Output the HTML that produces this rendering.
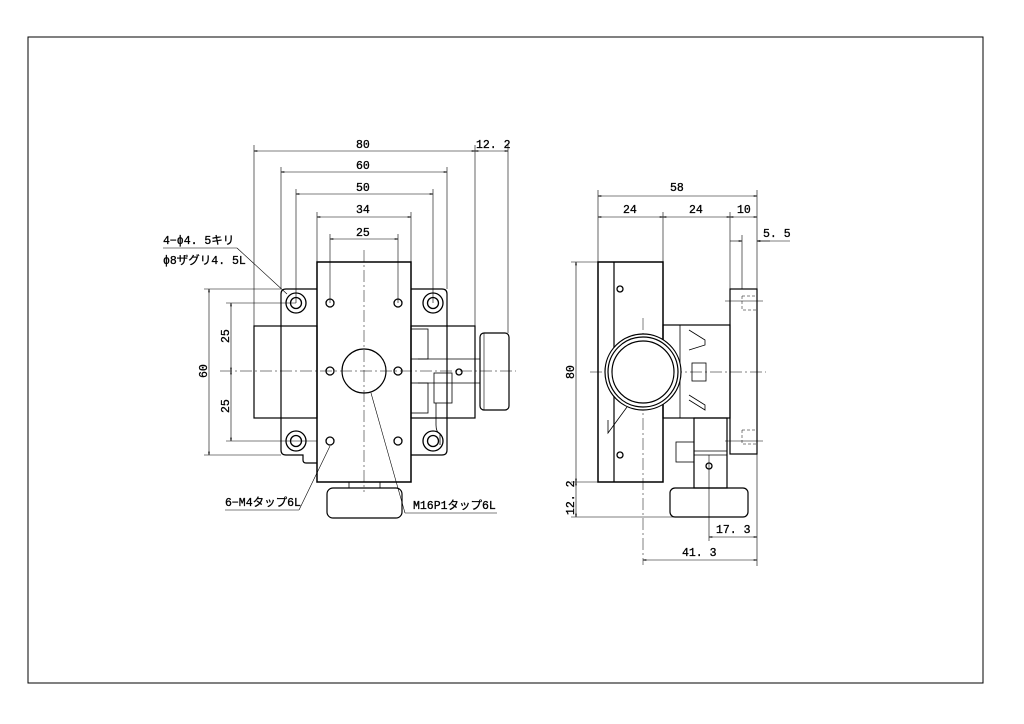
<!DOCTYPE html>
<html><head><meta charset="utf-8"><style>
html,body{margin:0;padding:0;background:#fff;}
svg{display:block;}
text{font-family:"Liberation Mono","Noto Sans CJK JP",monospace;font-size:11.5px;fill:#000;stroke:#000;stroke-width:0.3;}
</style></head><body>
<svg width="1024" height="724" viewBox="0 0 1024 724" xmlns="http://www.w3.org/2000/svg">
<defs>
<marker id="a" viewBox="0 0 10 6" refX="10" refY="3" markerWidth="8" markerHeight="4" orient="auto-start-reverse"><path d="M0,0 L10,3 L0,6" fill="none" stroke="#000" stroke-width="1"/></marker>
</defs>
<rect x="28" y="37" width="955" height="646" fill="none" stroke="#000" stroke-width="1"/>
<g fill="none" stroke="#000" stroke-width="0.6">
<line x1="254" y1="151" x2="475" y2="151" marker-start="url(#a)" marker-end="url(#a)"/>
<line x1="475" y1="151" x2="508" y2="151" marker-start="url(#a)" marker-end="url(#a)"/>
<line x1="281" y1="172" x2="447" y2="172" marker-start="url(#a)" marker-end="url(#a)"/>
<line x1="296" y1="194" x2="433" y2="194" marker-start="url(#a)" marker-end="url(#a)"/>
<line x1="317" y1="217" x2="411" y2="217" marker-start="url(#a)" marker-end="url(#a)"/>
<line x1="330" y1="239" x2="398" y2="239" marker-start="url(#a)" marker-end="url(#a)"/>
<line x1="254" y1="145" x2="254" y2="326"/><line x1="475" y1="145" x2="475" y2="326"/><line x1="508" y1="145" x2="508" y2="333"/>
<line x1="281" y1="167" x2="281" y2="289"/><line x1="447" y1="167" x2="447" y2="289"/>
<line x1="296" y1="189" x2="296" y2="303"/><line x1="433" y1="189" x2="433" y2="303"/>
<line x1="317" y1="212" x2="317" y2="262"/><line x1="411" y1="212" x2="411" y2="262"/>
<line x1="330" y1="234" x2="330" y2="303"/><line x1="398" y1="234" x2="398" y2="303"/>
<line x1="209" y1="289" x2="209" y2="455" marker-start="url(#a)" marker-end="url(#a)"/>
<line x1="231" y1="303" x2="231" y2="371" marker-start="url(#a)" marker-end="url(#a)"/>
<line x1="231" y1="371" x2="231" y2="441" marker-start="url(#a)" marker-end="url(#a)"/>
<line x1="204" y1="289" x2="281" y2="289"/><line x1="204" y1="455" x2="281" y2="455"/>
<line x1="226" y1="303" x2="296" y2="303"/><line x1="226" y1="441" x2="317" y2="441"/>
<line x1="163" y1="248" x2="237" y2="248"/><line x1="237" y1="248" x2="287" y2="294"/>
<line x1="225" y1="510" x2="299" y2="510"/><line x1="299" y1="510" x2="330" y2="446"/>
<line x1="405" y1="513" x2="497" y2="513"/><line x1="405" y1="513" x2="371" y2="393"/>
</g>
<g fill="none" stroke="#000" stroke-width="1.2">
<path d="M317,289 H286 Q281,289 281,294 V450 Q281,455 286,455 H303 V460 Q303,463 306,463 H317"/>
<path d="M411,289 H442 Q447,289 447,294 V450 Q447,455 442,455 H411"/>
<rect x="254" y="326" width="63" height="92"/>
<rect x="411" y="326" width="64" height="92"/>
<rect x="480" y="333" width="29" height="77" rx="4"/>
<line x1="484" y1="333" x2="484" y2="410" stroke-width="0.6"/>
<rect x="411" y="329" width="17" height="30" stroke-width="0.8"/>
<rect x="411" y="383" width="17" height="30" stroke-width="0.8"/>
<line x1="418" y1="359" x2="480" y2="359" stroke-width="0.8"/><line x1="418" y1="383" x2="480" y2="383" stroke-width="0.8"/>
<rect x="434" y="373" width="18" height="30" stroke-width="0.8"/>
<path d="M436,403 V425 Q436,432 440,434 V445" stroke-width="0.8"/>
<rect x="317" y="262" width="94" height="220" stroke-width="1.5"/>
<rect x="349" y="482" width="31" height="6" stroke-width="0.8"/>
<rect x="327" y="488" width="75" height="30" rx="6"/>
<circle cx="364" cy="371" r="22"/>
</g>
<g fill="none" stroke="#000" stroke-width="1.3">
<circle cx="296" cy="303" r="10"/><circle cx="296" cy="303" r="5.5"/>
<circle cx="433" cy="303" r="10"/><circle cx="433" cy="303" r="5.5"/>
<circle cx="296" cy="441" r="10"/><circle cx="296" cy="441" r="5.5"/>
<circle cx="433" cy="441" r="10"/><circle cx="433" cy="441" r="5.5"/>
<circle cx="330" cy="303" r="4"/><circle cx="398" cy="303" r="4"/>
<circle cx="330" cy="371" r="4"/><circle cx="398" cy="371" r="4"/>
<circle cx="330" cy="441" r="4"/><circle cx="398" cy="441" r="4"/>
<circle cx="459" cy="372" r="3"/>
</g>
<g stroke="#000" stroke-width="0.5" stroke-dasharray="12,3,2,3" fill="none">
<line x1="364" y1="250" x2="364" y2="492"/>
<line x1="220" y1="371" x2="516" y2="371"/>
<line x1="590" y1="372" x2="766" y2="372"/>
<line x1="643" y1="318" x2="643" y2="565"/>
</g>
<g>
<text x="356" y="148">80</text><text x="476" y="148">12. 2</text>
<text x="356" y="169">60</text><text x="356" y="191">50</text>
<text x="356" y="213">34</text><text x="356" y="236">25</text>
<text x="163" y="244">4−ϕ4. 5キリ</text><text x="163" y="264">ϕ8ザグリ4. 5L</text>
<text x="225" y="506">6−M4タップ6L</text><text x="413" y="509">M16P1タップ6L</text>
<text transform="translate(207,378) rotate(-90)">60</text>
<text transform="translate(229,343) rotate(-90)">25</text>
<text transform="translate(229,413) rotate(-90)">25</text>
</g>
<g fill="none" stroke="#000" stroke-width="0.6">
<line x1="598" y1="196" x2="757" y2="196" marker-start="url(#a)" marker-end="url(#a)"/>
<line x1="598" y1="217" x2="663" y2="217" marker-start="url(#a)" marker-end="url(#a)"/>
<line x1="663" y1="217" x2="730" y2="217" marker-start="url(#a)" marker-end="url(#a)"/>
<line x1="730" y1="217" x2="757" y2="217" marker-start="url(#a)" marker-end="url(#a)"/>
<line x1="730" y1="241" x2="742" y2="241" marker-end="url(#a)"/>
<line x1="757" y1="241" x2="790" y2="241"/><line x1="757" y1="241" x2="770" y2="241" marker-start="url(#a)"/>
<line x1="598" y1="190" x2="598" y2="262"/><line x1="663" y1="212" x2="663" y2="262"/>
<line x1="730" y1="212" x2="730" y2="289"/><line x1="757" y1="190" x2="757" y2="289"/>
<line x1="742" y1="235" x2="742" y2="289"/>
<line x1="576" y1="262" x2="576" y2="482" marker-start="url(#a)" marker-end="url(#a)"/>
<line x1="576" y1="482" x2="576" y2="517" marker-start="url(#a)" marker-end="url(#a)"/>
<line x1="571" y1="262" x2="598" y2="262"/><line x1="571" y1="482" x2="598" y2="482"/><line x1="571" y1="517" x2="680" y2="517"/>
<line x1="709" y1="537" x2="757" y2="537" marker-start="url(#a)" marker-end="url(#a)"/>
<line x1="643" y1="560" x2="757" y2="560" marker-start="url(#a)" marker-end="url(#a)"/>
<line x1="757" y1="454" x2="757" y2="566"/><line x1="709" y1="455" x2="709" y2="541"/>
<line x1="725" y1="301" x2="763" y2="301"/><line x1="725" y1="441" x2="763" y2="441"/>
</g>
<g fill="none" stroke="#000" stroke-width="1.2">
<rect x="663" y="325" width="67" height="93"/>
<rect x="730" y="289" width="27" height="165"/>
<rect x="694" y="418" width="33" height="70"/>
<line x1="694" y1="451" x2="727" y2="451" stroke-width="0.8"/><line x1="694" y1="455" x2="727" y2="455" stroke-width="0.8"/>
<rect x="676" y="442" width="18" height="20" stroke-width="0.8"/>
<rect x="670" y="488" width="78" height="29" rx="5"/>
<rect x="598" y="262" width="65" height="220" stroke-width="1.5"/>
<line x1="614" y1="262" x2="614" y2="482"/>
<path d="M689,330 L705,340 V345 L689,350" stroke-width="0.8"/>
<path d="M689,395 L705,405 V410 L689,400" stroke-width="0.8"/>
<line x1="680" y1="325" x2="680" y2="418" stroke-width="0.8"/>
<rect x="692" y="363" width="14" height="18" stroke-width="0.8"/>
<circle cx="643" cy="372" r="38" fill="#fff"/>
<circle cx="643" cy="372" r="35"/>
<circle cx="643" cy="372" r="31"/>
<path d="M608,420 V433 L627,407" stroke-width="0.8"/>
</g>
<g fill="none" stroke="#000" stroke-width="1.3">
<circle cx="620" cy="289" r="3"/><circle cx="620" cy="455" r="3"/><circle cx="709" cy="466" r="3"/>
</g>
<g fill="none" stroke="#000" stroke-width="0.5" stroke-dasharray="3,2">
<rect x="742" y="296" width="15" height="14"/><rect x="742" y="430" width="15" height="14"/>
</g>
<g>
<text x="670" y="191">58</text><text x="623" y="213">24</text><text x="689" y="213">24</text><text x="737" y="213">10</text>
<text x="763" y="237">5. 5</text>
<text transform="translate(574,379) rotate(-90)">80</text>
<text transform="translate(574,515) rotate(-90)">12. 2</text>
<text x="716" y="533">17. 3</text><text x="682" y="556">41. 3</text>
</g>
</svg>
</body></html>
